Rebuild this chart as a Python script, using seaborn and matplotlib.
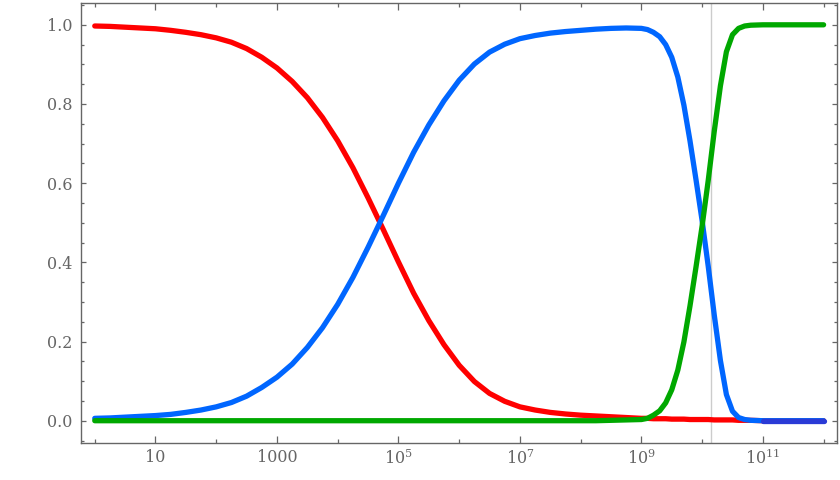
import pandas as pd
import seaborn as sns
import matplotlib.pyplot as plt
from matplotlib.ticker import FixedLocator, FixedFormatter, NullFormatter

# x positions (quarter decades, finer in the steep part)
x_vals = [1, 1.78, 3.16, 5.62,
          10, 17.8, 31.6, 56.2,
          100, 178, 316, 562,
          1e3, 1.78e3, 3.16e3, 5.62e3,
          1e4, 1.78e4, 3.16e4, 5.62e4,
          1e5, 1.78e5, 3.16e5, 5.62e5,
          1e6, 1.78e6, 3.16e6, 5.62e6,
          1e7, 1.78e7, 3.16e7, 5.62e7,
          1e8, 1.78e8, 3.16e8, 5.62e8,
          1e9, 1.26e9, 1.58e9, 2.0e9, 2.51e9, 3.16e9, 3.98e9, 5.01e9, 6.31e9, 7.94e9,
          1e10, 1.26e10, 1.58e10, 2.0e10, 2.51e10, 3.16e10, 3.98e10, 5.01e10, 6.31e10,
          1e11, 1e12]

red_vals = [0.997, 0.996, 0.994, 0.992,
            0.990, 0.986, 0.981, 0.975,
            0.967, 0.956, 0.940, 0.918,
            0.891, 0.857, 0.816, 0.766,
            0.707, 0.639, 0.563, 0.483,
            0.401, 0.322, 0.253, 0.192,
            0.140, 0.099, 0.069, 0.049,
            0.035, 0.027, 0.021, 0.017,
            0.014, 0.012, 0.010, 0.008,
            0.006, 0.006, 0.005, 0.005, 0.005, 0.004, 0.004, 0.004, 0.003, 0.003,
            0.003, 0.003, 0.002, 0.002, 0.002, 0.002, 0.001, 0.001, 0.001,
            0.0, 0.0]

blue_vals = [0.006, 0.007, 0.009, 0.011,
             0.013, 0.016, 0.021, 0.027,
             0.035, 0.046, 0.062, 0.084,
             0.110, 0.143, 0.185, 0.235,
             0.294, 0.362, 0.438, 0.518,
             0.600, 0.678, 0.747, 0.808,
             0.860, 0.901, 0.931, 0.951,
             0.965, 0.973, 0.979, 0.983,
             0.986, 0.989, 0.991, 0.992,
             0.991, 0.988, 0.981, 0.970, 0.950, 0.918, 0.868, 0.797, 0.707, 0.608,
             0.505, 0.390, 0.268, 0.152, 0.066, 0.024, 0.008, 0.003, 0.001,
             0.0, 0.0]

green_vals = [0.0, 0.0, 0.0, 0.0,
              0.0, 0.0, 0.0, 0.0,
              0.0, 0.0, 0.0, 0.0,
              0.0, 0.0, 0.0, 0.0,
              0.0, 0.0, 0.0, 0.0,
              0.0, 0.0, 0.0, 0.0,
              0.0, 0.0, 0.0, 0.0,
              0.0, 0.0, 0.0, 0.0,
              0.0, 0.0, 0.001, 0.002,
              0.003, 0.006, 0.014, 0.025, 0.045, 0.078, 0.128, 0.199, 0.290, 0.389,
              0.492, 0.607, 0.730, 0.846, 0.932, 0.975, 0.991, 0.997, 0.999,
              1.0, 1.0]

tail_x = [1e11, 1e12]
tail_vals = [0.0, 0.0]

marker_x = 1.38e10

xtick_major = [1e1, 1e3, 1e5, 1e7, 1e9, 1e11]
xtick_minor = [1e0, 1e2, 1e4, 1e6, 1e8, 1e10, 1e12]
xtick_labels = ["10", "1000", "$10^{5}$", "$10^{7}$", "$10^{9}$", "$10^{11}$"]
ytick_major = [0.0, 0.2, 0.4, 0.6, 0.8, 1.0]
ytick_minor = [-0.05, 0.05, 0.1, 0.15, 0.25, 0.3, 0.35, 0.45, 0.5, 0.55,
               0.65, 0.7, 0.75, 0.85, 0.9, 0.95, 1.05]
ytick_labels = ["0.0", "0.2", "0.4", "0.6", "0.8", "1.0"]

sns.set_style("ticks")
plt.rcParams["font.family"] = ["DejaVu Serif"]
plt.rcParams["mathtext.fontset"] = "dejavuserif"

fig = plt.figure(figsize=(8.4, 4.8), dpi=100)
ax = fig.add_axes([0.0964, 0.0765, 0.9, 0.918])

ax.axvline(marker_x, color="#cccccc", lw=1.0, zorder=1)

lw = 3.8
sns.lineplot(x=x_vals, y=red_vals, color="#ff0000", lw=lw, sort=False, ax=ax, zorder=2)
sns.lineplot(x=x_vals, y=blue_vals, color="#0066ff", lw=lw, sort=False, ax=ax, zorder=3)
sns.lineplot(x=x_vals, y=green_vals, color="#00a800", lw=lw, sort=False, ax=ax, zorder=4)
sns.lineplot(x=tail_x, y=tail_vals, color="#2a3ad6", lw=lw, sort=False, ax=ax, zorder=5)

ax.set_xscale("log")
ax.set_xlim(0.593, 1.66e12)
ax.set_ylim(-0.057, 1.056)

ax.xaxis.set_major_locator(FixedLocator(xtick_major))
ax.xaxis.set_major_formatter(FixedFormatter(xtick_labels))
ax.xaxis.set_minor_locator(FixedLocator(xtick_minor))
ax.xaxis.set_minor_formatter(NullFormatter())
ax.yaxis.set_major_locator(FixedLocator(ytick_major))
ax.yaxis.set_major_formatter(FixedFormatter(ytick_labels))
ax.yaxis.set_minor_locator(FixedLocator(ytick_minor))

gray = "#666666"
for s in ax.spines.values():
    s.set_visible(True)
    s.set_color(gray)
    s.set_linewidth(1.0)

ax.tick_params(which="both", direction="in", top=True, right=True,
               color=gray, labelcolor=gray, width=0.9, labelsize=11.5)
ax.tick_params(axis="x", which="major", length=5, pad=4)
ax.tick_params(axis="x", which="minor", length=3)
ax.tick_params(axis="y", which="major", length=3.6, pad=6)
ax.tick_params(axis="y", which="minor", length=2.2)

ax.set_xlabel("")
ax.set_ylabel("")

plt.savefig("out.png", dpi=100)
